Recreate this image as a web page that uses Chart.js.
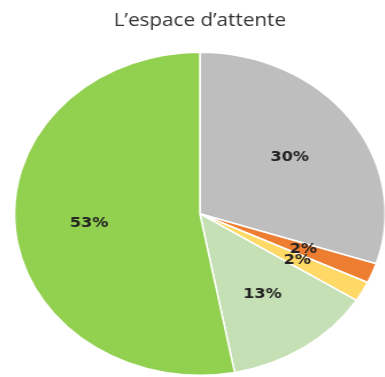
<!DOCTYPE html>
<html>
<head>
<meta charset="utf-8">
<script src="https://cdn.jsdelivr.net/npm/chart.js@4"></script>
<style>
  html, body { margin: 0; padding: 0; background: #fff; overflow: hidden; }
  body { width: 385px; height: 377px; position: relative; }
  /* le camembert est étiré horizontalement */
  #cadre { position: absolute; left: 7px; top: 0; width: 336px; height: 377px;
           transform: scaleX(1.148); transform-origin: 0 0; }
</style>
</head>
<body>
<div id="cadre"><canvas id="graficoAttente" width="336" height="377"></canvas></div>
<script>
const titre = "L\u2019espace d\u2019attente";
const categories = ['Gris', 'Orange', 'Jaune', 'Vert clair', 'Vert'];
const valeurs = [30, 2, 2, 13, 53];
const couleurs = ['#bebebe', '#ed7d31', '#ffd966', '#c5e0b4', '#92d050'];

// pourcentages posés à 60 % du rayon, au milieu de chaque part
const etiquettes = {
  id: 'etiquettes',
  afterDatasetsDraw(chart) {
    const ctx = chart.ctx;
    const total = valeurs.reduce((acc, val) => acc + val, 0);
    ctx.save();
    ctx.font = 'bold 14px "DejaVu Sans"';
    ctx.fillStyle = '#222';
    ctx.textAlign = 'center';
    ctx.textBaseline = 'middle';
    chart.getDatasetMeta(0).data.forEach((arc, i) => {
      const mid = (arc.startAngle + arc.endAngle) / 2;
      const r = arc.outerRadius * 0.6;
      const pct = Math.round(valeurs[i] / total * 100) + '%';
      ctx.fillText(pct, arc.x + Math.cos(mid) * r, arc.y + Math.sin(mid) * r);
    });
    ctx.restore();
  }
};

const ctx = document.getElementById('graficoAttente').getContext('2d');
const graphique = new Chart(ctx, {
  type: 'pie',
  data: {
    labels: categories,
    datasets: [{
      data: valeurs,
      backgroundColor: couleurs,
      borderColor: '#fff',
      borderWidth: 1.5
    }]
  },
  options: {
    responsive: false,
    animation: false,
    layout: { padding: { top: 0, bottom: 1, left: 0, right: 0 } },
    plugins: {
      legend: { display: false },
      tooltip: { enabled: false },
      title: {
        display: true,
        text: titre,
        color: '#333',
        font: { family: '"Open Sans"', size: 18, weight: 'normal' },
        padding: { top: 10, bottom: 20 }
      }
    }
  },
  plugins: [etiquettes]
});
</script>
</body>
</html>
